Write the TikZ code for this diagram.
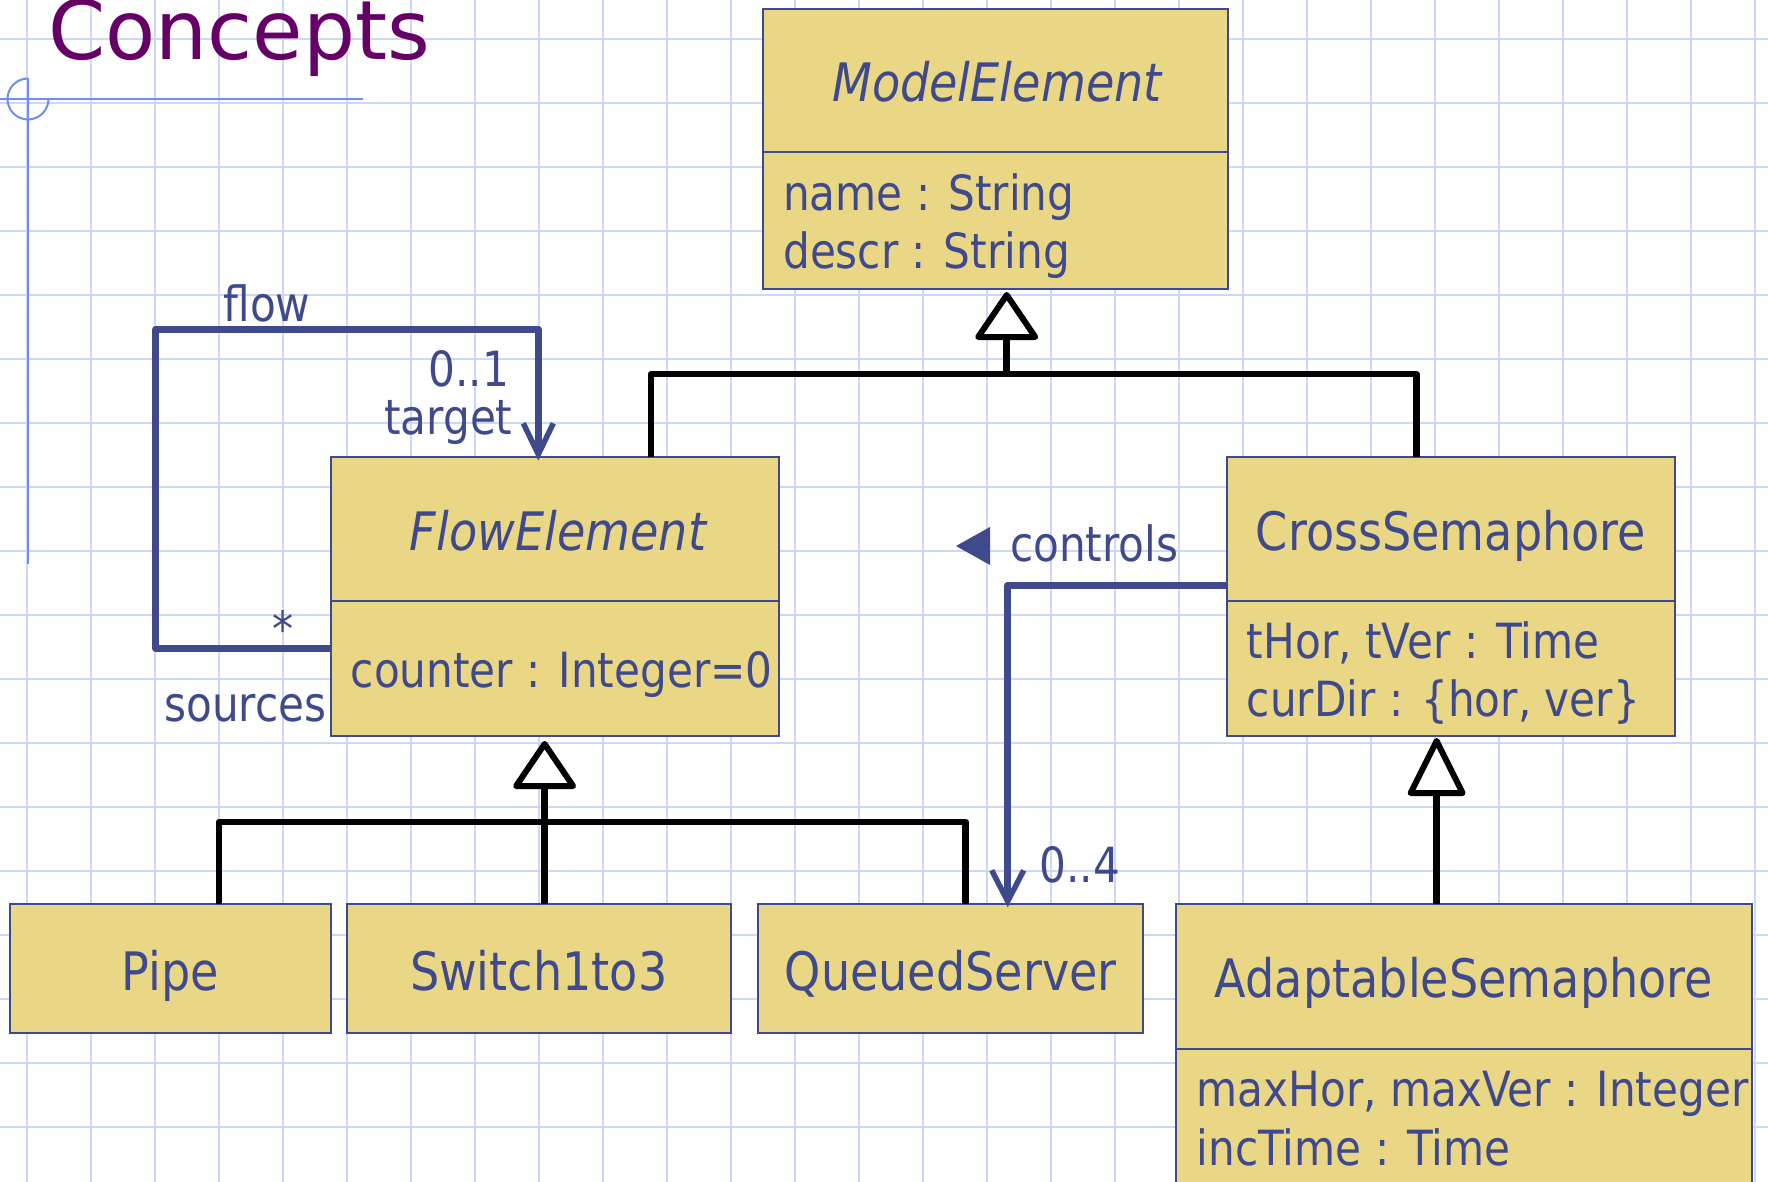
\documentclass[tikz,border=0pt]{standalone}
\usepackage{fontspec}
\setmainfont[FakeStretch=0.87]{DejaVu Sans}
\newfontfamily\titlefont{DejaVu Sans}
\usetikzlibrary{calc}
\definecolor{umlblue}{HTML}{3F4A8C}
\definecolor{umlfill}{HTML}{EAD785}
\definecolor{gridblue}{HTML}{CCD8F8}
\definecolor{decoblue}{HTML}{6E8DF2}
\definecolor{titlepurple}{HTML}{660066}
\begin{document}
\begin{tikzpicture}[x=1pt,y=-1pt,
  gridline/.style={draw=gridblue, line width=2pt},
  deco/.style={draw=decoblue, line width=2pt},
  umlbox/.style={draw=umlblue, fill=umlfill, line width=2pt, inner sep=0pt, outer sep=0pt},
  umlline/.style={draw=umlblue, line width=2pt},
  ttl/.style={font=\fontsize{53}{60}\selectfont, text=umlblue, inner sep=0pt, anchor=base},
  attr/.style={font=\fontsize{48.5}{58}\selectfont, text=umlblue, inner sep=0pt, anchor=base west},
  gen/.style={draw=black, line width=6.5pt, line join=round},
  gtri/.style={draw=black, fill=white, line width=6pt, line join=round},
  assoc/.style={draw=umlblue, line width=7pt, line join=round},
  vhead/.style={draw=umlblue, line width=5.5pt, line join=miter}
]
\useasboundingbox (0,0) rectangle (1768,1182);
\clip (0,0) rectangle (1768,1182);
\fill[white] (0,0) rectangle (1768,1182);

% grid
\foreach \i in {0,...,27} \draw[gridline] ({26.7+64*\i},0) -- ({26.7+64*\i},1182);
\foreach \j in {0,...,17} \draw[gridline] (0,{39+64*\j}) -- (1768,{39+64*\j});

% decoration
\draw[deco] (0,99) -- (362.7,99);
\draw[deco] (28,78.5) -- (28,564);
\draw[deco] (28,78.5) arc[start angle=90, end angle=360, radius=20.5pt];

% title
\node[anchor=base west, inner sep=0pt, text=titlepurple, font=\titlefont\fontsize{82}{90}\selectfont] (title) at (48,59.3) {Concepts};

% boxes
\node[umlbox, minimum width=465, minimum height=280] (me) at (995,149) {};
\node[umlbox, minimum width=448, minimum height=278.7] (fe) at (555,596.65) {};
\node[umlbox, minimum width=448, minimum height=278.7] (cs) at (1450.7,596.65) {};
\node[umlbox, minimum width=321, minimum height=129] (pipe) at (170.5,968.8) {};
\node[umlbox, minimum width=384, minimum height=129] (sw) at (538.7,968.8) {};
\node[umlbox, minimum width=385, minimum height=129] (qs) at (950.8,968.8) {};
\node[umlbox, minimum width=576.3, minimum height=345.7] (as) at (1464.15,1077.15) {};

% dividers
\draw[umlline] ($(me.north west)+(0,143.5)$) -- ($(me.north east)+(0,143.5)$);
\draw[umlline] ($(fe.north west)+(0,143.4)$) -- ($(fe.north east)+(0,143.4)$);
\draw[umlline] ($(cs.north west)+(0,143.4)$) -- ($(cs.north east)+(0,143.4)$);
\draw[umlline] ($(as.north west)+(0,144.7)$) -- ($(as.north east)+(0,144.7)$);

% box texts
\node[ttl, font=\fontsize{53}{60}\selectfont\itshape] (meT) at (997,101.7) {ModelElement};
\node[attr] (meA1) at (783,210.7) {name : String};
\node[attr] (meA2) at (783,268.3) {descr : String};

\node[ttl, font=\fontsize{53}{60}\selectfont\itshape] (feT) at (558,550) {FlowElement};
\node[attr] (feA1) at (350.7,687.3) {counter : Integer=0};

\node[ttl] (csT) at (1451,550) {CrossSemaphore};
\node[attr] (csA1) at (1246.7,658.3) {tHor, tVer : Time};
\node[attr] (csA2) at (1246.7,716) {curDir : \{hor, ver\}};

\node[ttl] (pipeT) at (170.5,990) {Pipe};
\node[ttl] (swT) at (538.7,990) {Switch1to3};
\node[ttl] (qsT) at (950.8,990) {QueuedServer};

\node[ttl] (asT) at (1464,997.3) {AdaptableSemaphore};
\begin{scope}
\clip (1176,904.3) rectangle (1752.3,1182);
\node[attr] (asA1) at (1196.5,1106.7) {maxHor, maxVer : Integer};
\node[attr] (asA2) at (1196.5,1165) {incTime : Time};
\end{scope}

% generalization to ModelElement
\coordinate (b1) at (651,374);
\coordinate (b2) at (1416.3,374);
\coordinate (t1) at (1006.7,374);
\draw[gen] (fe.north -| b1) -- (b1) -- (b2) -- (cs.north -| b2);
\draw[gen] (t1) -- ($(me.south -| t1)+(0,48)$);
\draw[gtri] ($(me.south -| t1)+(0,6)$) -- ++(28.5,42) -- ++(-57,0) -- cycle;

% generalization to FlowElement
\coordinate (c1) at (219,822);
\coordinate (c2) at (965.7,822);
\coordinate (t2) at (544.6,822);
\draw[gen] (pipe.north -| c1) -- (c1) -- (c2) -- (qs.north -| c2);
\draw[gen] (sw.north -| t2) -- ($(fe.south -| t2)+(0,50)$);
\draw[gtri] ($(fe.south -| t2)+(0,8)$) -- ++(28.5,42) -- ++(-57,0) -- cycle;

% generalization to CrossSemaphore
\coordinate (t3) at (1436.6,850);
\draw[gen] (as.north -| t3) -- ($(cs.south -| t3)+(0,57)$);
\draw[gtri] ($(cs.south -| t3)+(0,5)$) -- ++(26,52) -- ++(-52,0) -- cycle;

% flow association
\coordinate (f1) at (155.7,648.3);
\coordinate (f2) at (155.7,329.3);
\coordinate (f3) at (538.3,329.3);
\coordinate (ftip) at ($(fe.north -| f3)+(0,-3)$);
\draw[assoc] (fe.west |- f1) -- (f1) -- (f2) -- (f3) -- ($(ftip)+(0,-6)$);
\draw[vhead] ($(ftip)+(-15,-31)$) -- (ftip) -- ($(ftip)+(15,-31)$);

% controls association
\coordinate (k1) at (1007.7,585);
\coordinate (ktip) at ($(qs.north -| k1)+(0,-3)$);
\draw[assoc] (cs.west |- k1) -- (k1) -- ($(ktip)+(0,-6)$);
\draw[vhead] ($(ktip)+(-16,-31)$) -- (ktip) -- ($(ktip)+(16,-31)$);
\fill[umlblue] (956,546) -- (990,527) -- (990,565) -- cycle;

% labels
\node[attr] (flowL) at (223.3,321.7) {flow};
\node[attr, anchor=base east] (m01) at (509.3,386) {0..1};
\node[attr, anchor=base east] (tgt) at (512.7,434) {target};
\node[attr, anchor=base] (star) at (282.7,646) {*};
\node[attr, anchor=base east] (src) at (326.7,721.7) {sources};
\node[attr] (ctl) at (1010,561.7) {controls};
\node[attr] (m04) at (1039.3,882.3) {0..4};
\end{tikzpicture}
\end{document}
